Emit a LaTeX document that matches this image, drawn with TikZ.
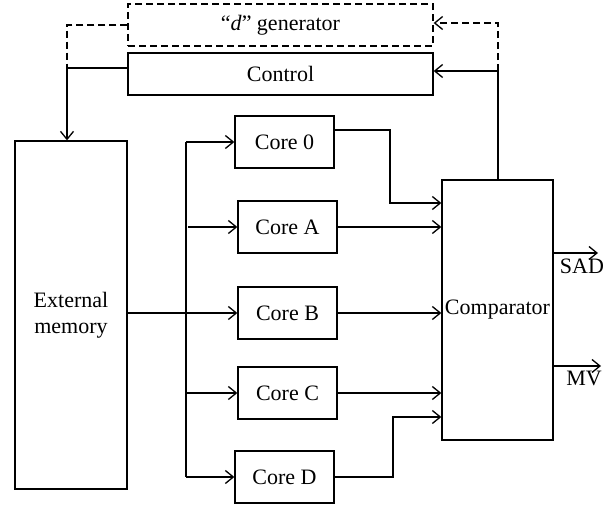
\documentclass[tikz,border=0pt]{standalone}
\usepackage{fontspec}
\setmainfont{Liberation Serif}
\usetikzlibrary{arrows.meta}
\begin{document}
\begin{tikzpicture}[x=1pt,y=-1pt,
  every node/.style={font=\fontsize{22}{26}\selectfont},
  blk/.style={draw, line width=1.3pt, inner sep=0pt, align=center},
  core/.style={blk, minimum width=99pt, minimum height=52pt},
  wire/.style={line width=1.3pt},
  arr/.style={wire, -{Straight Barb[length=8pt,width=13pt,line width=1.3pt]}},
  dsh/.style={dash pattern=on 7pt off 4pt}]
\useasboundingbox (0,0) rectangle (611,506);
% blocks
\node[blk, dsh, minimum width=305pt, minimum height=42pt] (dgen) at (280.5,25) {``\textit{d}'' generator};
\node[blk, minimum width=305pt, minimum height=42pt] (ctrl) at (280.5,74) {Control};
\node[blk, minimum width=112pt, minimum height=348pt] (mem) at (71,315) {External\\memory};
\node[core] (c0) at (284.5,142) {Core 0};
\node[core] (cA) at (287.5,227) {Core A};
\node[core] (cB) at (287.5,313) {Core B};
\node[core] (cC) at (287.5,393) {Core C};
\node[core] (cD) at (284.5,477) {Core D};
\node[blk, minimum width=111pt, minimum height=260pt] (cmp) at (497.5,310) {Comparator};
% junction coordinates
\coordinate (jl) at (67,68);
\coordinate (jr) at (498,71);
\coordinate (jrt) at (498,23);
\coordinate (jlt) at (67,25);
\coordinate (bx) at (186,0);
\coordinate (k0) at (390,130);
\coordinate (kD) at (393,477);
\coordinate (sadend) at (598,253);
\coordinate (mvend) at (601,366);
\node[anchor=north] (sad) at (582,255) {SAD};
\node[anchor=north] (mv) at (584,368) {MV};
% control feedback, left
\draw[wire, dsh] (dgen.west |- jlt) -- (jlt) -- (jl);
\draw[arr] (ctrl.west |- jl) -- (jl) -- (jl |- mem.north);
% right feedback
\draw[arr, dsh] (jr) -- (jrt) -- (dgen.east |- jrt);
\draw[arr] (cmp.north -| jr) -- (jr) -- (ctrl.east |- jr);
% memory bus
\draw[arr] (mem.east |- cB.west) -- (cB.west);
\draw[wire] (c0.west -| bx) -- (cD.west -| bx);
\draw[arr] (c0.west -| bx) -- (c0.west);
\draw[arr] ([xshift=2pt]cA.west -| bx) -- (cA.west);
\draw[arr] (cC.west -| bx) -- (cC.west);
\draw[arr] (cD.west -| bx) -- (cD.west);
% core outputs
\draw[arr] (c0.east |- k0) -- (k0) -- (k0 |- 0,203) -- (cmp.west |- 0,203);
\draw[arr] (cA.east) -- (cmp.west |- cA.east);
\draw[arr] (cB.east) -- (cmp.west |- cB.east);
\draw[arr] (cC.east) -- (cmp.west |- cC.east);
\draw[arr] (cD.east |- kD) -- (kD) -- (kD |- 0,417) -- (cmp.west |- 0,417);
% outputs
\draw[arr] (cmp.east |- sadend) -- (sadend);
\draw[arr] (cmp.east |- mvend) -- (mvend);
\end{tikzpicture}
\end{document}
